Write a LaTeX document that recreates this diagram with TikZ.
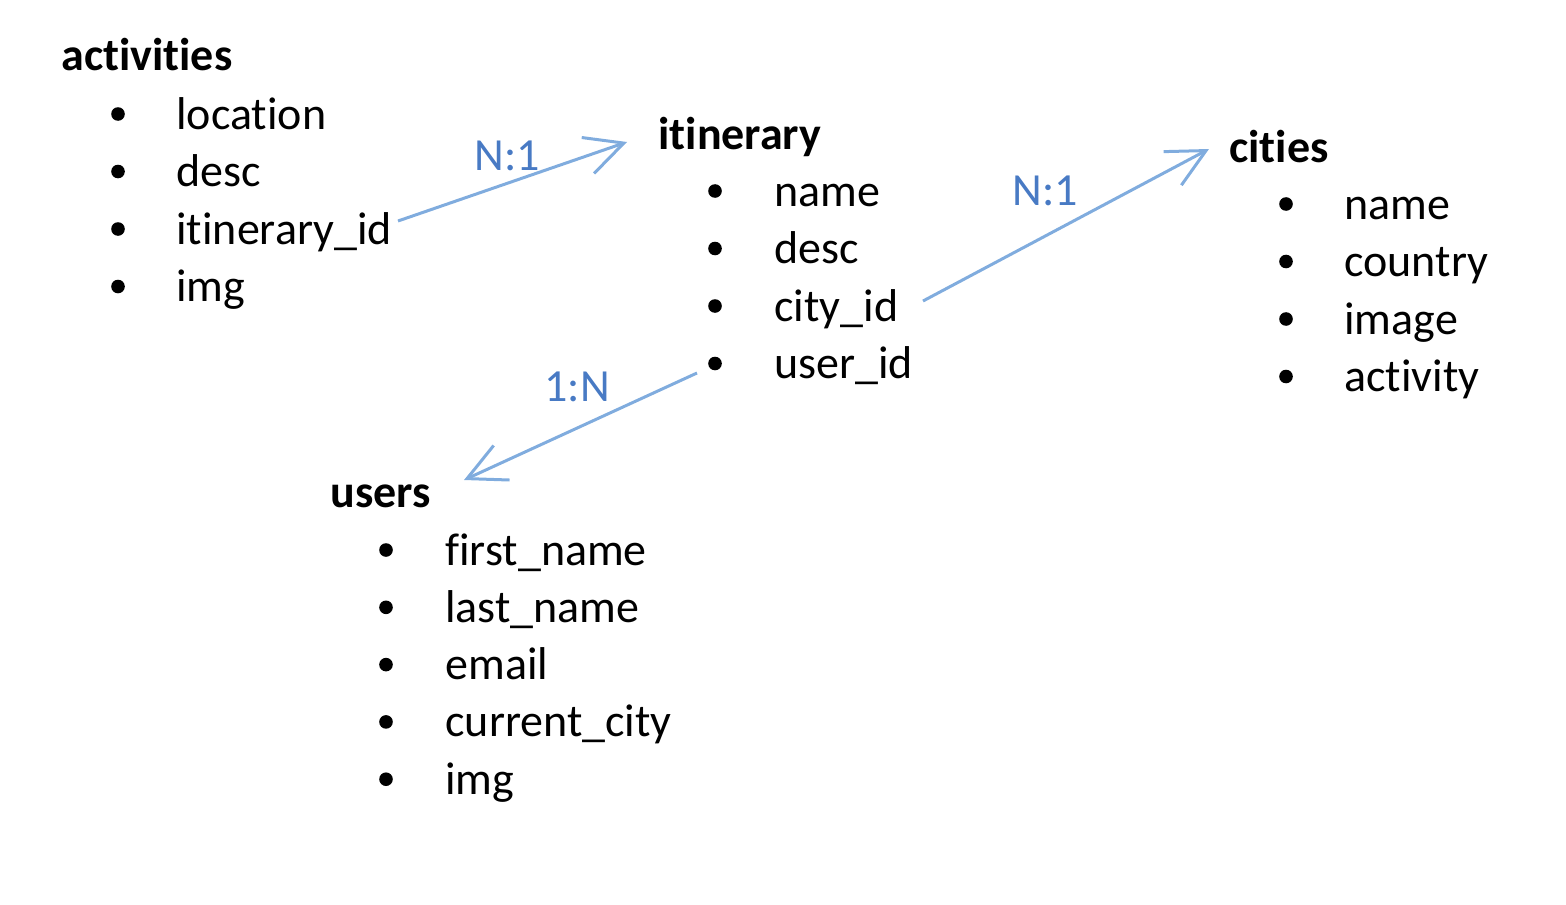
\documentclass[tikz,border=0pt]{standalone}
\usepackage{fontspec}
\setmainfont{Carlito}[RawFeature={-liga}]
\usetikzlibrary{arrows.meta}
\definecolor{linkline}{RGB}{128,172,222}
\definecolor{linklabel}{RGB}{72,122,196}
\tikzset{
  head/.style={anchor=base west, inner sep=0pt, font=\fontsize{23}{28}\selectfont\bfseries},
  item/.style={anchor=base west, inner sep=0pt, font=\fontsize{23}{28}\selectfont},
  dot/.style={circle, fill=black, inner sep=0pt, minimum size=6.8pt},
  link/.style={draw=linkline, line width=1.5pt, -{Straight Barb[length=19pt,width=19pt,line width=1.5pt]}},
  lab/.style={inner sep=0pt, text=linklabel, font=\fontsize{23}{28}\selectfont}
}
\begin{document}
\begin{tikzpicture}[x=0.5pt,y=-0.5pt]
\useasboundingbox (0,0) rectangle (1566,904);
% activities
\node[head] (act) at (61,71) {activities};
\foreach \t [count=\i] in {location,desc,itinerary\_id,img}{
  \node[dot] (actb\i) at (118,{114+57.5*(\i-1)}) {};
  \node[item] (act\i) at (176,{129+57.5*(\i-1)}) {\t};
}
% itinerary
\node[head] (iti) at (658,149) {itinerary};
\foreach \t [count=\i] in {name,desc,city\_id,user\_id}{
  \node[dot] (itib\i) at (715,{191+57.5*(\i-1)}) {};
  \node[item] (iti\i) at (774,{206+57.5*(\i-1)}) {\t};
}
% cities
\node[head] (cit) at (1229,162) {cities};
\foreach \t [count=\i] in {name,country,image,activity}{
  \node[dot] (citb\i) at (1286,{204+57.5*(\i-1)}) {};
  \node[item] (cit\i) at (1344,{219+57.5*(\i-1)}) {\t};
}
% users
\node[head] (usr) at (330,507) {users};
\foreach \t [count=\i] in {first\_name,last\_name,email,current\_city,img}{
  \node[dot] (usrb\i) at (386,{550+57.3*(\i-1)}) {};
  \node[item] (usr\i) at (445,{565+57.3*(\i-1)}) {\t};
}
% connectors
\coordinate (a1) at (398,221);
\coordinate (a2) at (627,142);
\coordinate (b1) at (923,301);
\coordinate (b2) at (1209,149);
\coordinate (c1) at (697,373);
\coordinate (c2) at (464,480);
\draw[link] (a1) -- (a2);
\draw[link] (b1) -- (b2);
\draw[link] (c1) -- (c2);
\node[lab] (l1) at (507,156) {N:1};
\node[lab] (l2) at (1045,191) {N:1};
\node[lab] (l3) at (577,387) {1:N};
\end{tikzpicture}
\end{document}
